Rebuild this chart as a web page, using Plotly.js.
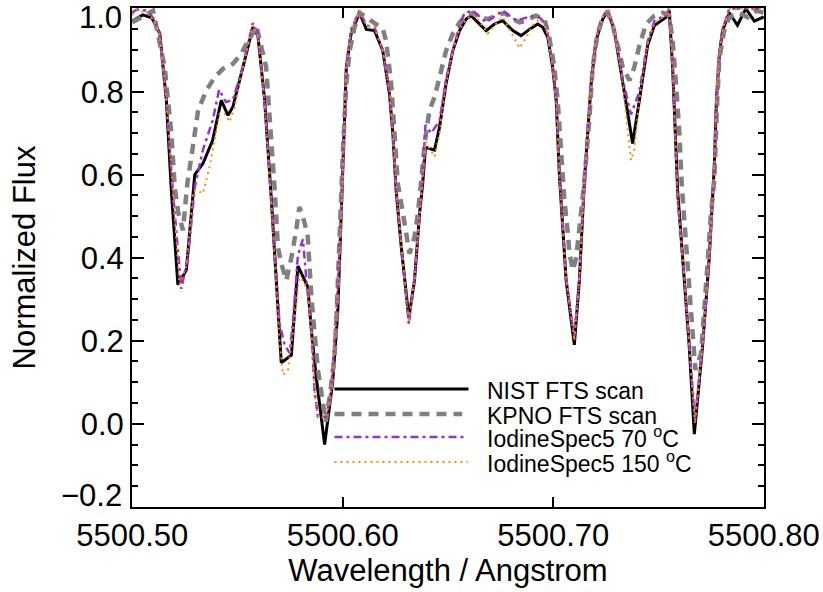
<!DOCTYPE html>
<html>
<head>
<meta charset="utf-8">
<script src="https://cdn.plot.ly/plotly-3.0.1.min.js"></script>
<style>html,body{margin:0;padding:0;background:#fff;}#chart{width:823px;height:592px;}</style>
</head>
<body>
<div id="chart"></div>
<script>
// ---- Data ----
const nistWave = [5500.5000,5500.5050,5500.5093,5500.5131,5500.5162,5500.5186,5500.5217,5500.5257,5500.5297,5500.5336,5500.5382,5500.5423,5500.5455,5500.5478,5500.5526,5500.5573,5500.5597,5500.5629,5500.5661,5500.5684,5500.5700,5500.5708,5500.5756,5500.5787,5500.5834,5500.5851,5500.5874,5500.5890,5500.5914,5500.5952,5500.5976,5500.5993,5500.6017,5500.6040,5500.6080,5500.6112,5500.6151,5500.6190,5500.6222,5500.6238,5500.6254,5500.6278,5500.6294,5500.6314,5500.6341,5500.6365,5500.6380,5500.6393,5500.6436,5500.6460,5500.6491,5500.6523,5500.6555,5500.6586,5500.6610,5500.6634,5500.6681,5500.6721,5500.6760,5500.6808,5500.6847,5500.6887,5500.6926,5500.6950,5500.6974,5500.6997,5500.7014,5500.7029,5500.7061,5500.7085,5500.7100,5500.7124,5500.7148,5500.7180,5500.7203,5500.7235,5500.7259,5500.7290,5500.7330,5500.7362,5500.7377,5500.7409,5500.7448,5500.7480,5500.7536,5500.7551,5500.7567,5500.7591,5500.7623,5500.7646,5500.7670,5500.7709,5500.7741,5500.7765,5500.7775,5500.7789,5500.7804,5500.7836,5500.7875,5500.7915,5500.7955,5500.7994,5500.8000];
const nistFlux = [0.970,0.985,0.978,0.940,0.780,0.560,0.335,0.370,0.600,0.627,0.683,0.779,0.743,0.763,0.859,0.955,0.935,0.780,0.540,0.346,0.226,0.147,0.165,0.380,0.330,0.226,0.113,0.050,-0.050,0.100,0.266,0.507,0.859,0.940,0.990,0.950,0.947,0.899,0.795,0.700,0.560,0.426,0.346,0.255,0.346,0.507,0.580,0.666,0.659,0.715,0.820,0.899,0.947,0.975,0.983,0.971,0.947,0.963,0.971,0.947,0.935,0.950,0.963,0.955,0.931,0.859,0.779,0.600,0.346,0.250,0.190,0.346,0.587,0.820,0.923,0.975,0.995,0.947,0.820,0.723,0.675,0.779,0.911,0.959,0.979,0.995,0.859,0.560,0.346,0.186,-0.025,0.186,0.400,0.620,0.780,0.890,0.947,0.990,0.960,1.000,0.970,0.980,0.980];

const kpnoWave = [5500.5000,5500.5099,5500.5154,5500.5186,5500.5202,5500.5218,5500.5241,5500.5262,5500.5281,5500.5313,5500.5352,5500.5392,5500.5431,5500.5478,5500.5518,5500.5550,5500.5581,5500.5589,5500.5636,5500.5660,5500.5676,5500.5692,5500.5708,5500.5732,5500.5756,5500.5780,5500.5787,5500.5794,5500.5818,5500.5834,5500.5851,5500.5866,5500.5882,5500.5906,5500.5919,5500.5938,5500.5961,5500.5969,5500.5977,5500.5985,5500.6001,5500.6017,5500.6033,5500.6056,5500.6080,5500.6112,5500.6160,5500.6190,5500.6206,5500.6230,5500.6246,5500.6262,5500.6286,5500.6302,5500.6317,5500.6341,5500.6357,5500.6373,5500.6389,5500.6412,5500.6436,5500.6460,5500.6491,5500.6523,5500.6555,5500.6586,5500.6618,5500.6650,5500.6689,5500.6729,5500.6768,5500.6808,5500.6839,5500.6871,5500.6918,5500.6958,5500.6981,5500.7005,5500.7021,5500.7037,5500.7053,5500.7069,5500.7077,5500.7093,5500.7109,5500.7124,5500.7148,5500.7172,5500.7187,5500.7211,5500.7235,5500.7259,5500.7282,5500.7306,5500.7330,5500.7362,5500.7385,5500.7409,5500.7441,5500.7480,5500.7520,5500.7551,5500.7567,5500.7583,5500.7599,5500.7611,5500.7631,5500.7646,5500.7662,5500.7675,5500.7702,5500.7717,5500.7733,5500.7749,5500.7765,5500.7779,5500.7789,5500.7812,5500.7836,5500.7883,5500.7923,5500.7963,5500.7994,5500.8000];
const kpnoFlux = [0.967,0.995,0.860,0.700,0.570,0.510,0.466,0.580,0.643,0.755,0.803,0.835,0.855,0.867,0.891,0.923,0.947,0.960,0.860,0.700,0.570,0.426,0.386,0.346,0.400,0.470,0.490,0.522,0.486,0.450,0.306,0.219,0.130,0.050,0.005,0.065,0.160,0.240,0.353,0.480,0.659,0.820,0.899,0.955,0.990,0.979,0.963,0.951,0.923,0.820,0.700,0.578,0.507,0.450,0.410,0.450,0.507,0.587,0.675,0.755,0.787,0.835,0.899,0.940,0.967,0.983,0.990,0.979,0.975,0.983,0.990,0.975,0.967,0.971,0.983,0.975,0.931,0.860,0.779,0.659,0.538,0.460,0.410,0.370,0.400,0.470,0.587,0.738,0.859,0.940,0.979,0.990,0.960,0.911,0.859,0.827,0.859,0.911,0.963,0.983,0.990,0.983,0.923,0.820,0.700,0.570,0.426,0.306,0.186,0.130,0.170,0.266,0.386,0.506,0.587,0.780,0.880,0.947,0.979,0.990,0.979,0.995,0.990,0.990];

const iodine70Wave = [5500.5000,5500.5021,5500.5072,5500.5104,5500.5131,5500.5162,5500.5193,5500.5233,5500.5265,5500.5297,5500.5336,5500.5382,5500.5413,5500.5445,5500.5478,5500.5526,5500.5573,5500.5597,5500.5629,5500.5661,5500.5684,5500.5700,5500.5724,5500.5748,5500.5764,5500.5787,5500.5811,5500.5826,5500.5850,5500.5866,5500.5882,5500.5921,5500.5945,5500.5969,5500.5993,5500.6017,5500.6040,5500.6080,5500.6112,5500.6151,5500.6190,5500.6222,5500.6238,5500.6254,5500.6278,5500.6294,5500.6314,5500.6341,5500.6365,5500.6380,5500.6393,5500.6420,5500.6460,5500.6491,5500.6523,5500.6555,5500.6579,5500.6618,5500.6681,5500.6760,5500.6824,5500.6903,5500.6934,5500.6966,5500.6997,5500.7014,5500.7029,5500.7061,5500.7085,5500.7100,5500.7124,5500.7148,5500.7180,5500.7203,5500.7235,5500.7259,5500.7290,5500.7330,5500.7362,5500.7369,5500.7409,5500.7448,5500.7480,5500.7536,5500.7551,5500.7567,5500.7591,5500.7623,5500.7646,5500.7673,5500.7709,5500.7741,5500.7765,5500.7775,5500.7789,5500.7804,5500.7836,5500.7875,5500.7915,5500.7955,5500.8000];
const iodine70Flux = [0.990,0.998,0.995,0.975,0.940,0.780,0.560,0.325,0.400,0.570,0.660,0.730,0.805,0.775,0.780,0.860,0.965,0.940,0.780,0.540,0.350,0.240,0.190,0.170,0.250,0.406,0.445,0.353,0.240,0.080,0.017,0.017,0.080,0.266,0.507,0.860,0.950,0.995,0.960,0.955,0.900,0.800,0.700,0.560,0.430,0.350,0.240,0.350,0.510,0.600,0.720,0.700,0.730,0.830,0.900,0.960,0.990,0.995,0.967,0.995,0.971,0.983,0.979,0.963,0.860,0.780,0.600,0.350,0.260,0.210,0.350,0.590,0.820,0.930,0.980,1.000,0.950,0.830,0.760,0.745,0.800,0.920,0.970,0.985,1.000,0.860,0.540,0.350,0.190,0.010,0.190,0.400,0.620,0.780,0.890,0.950,1.000,1.000,1.000,1.000,1.000];

const iodine150Wave = [5500.5000,5500.5021,5500.5072,5500.5104,5500.5131,5500.5162,5500.5193,5500.5225,5500.5257,5500.5290,5500.5305,5500.5336,5500.5368,5500.5392,5500.5415,5500.5439,5500.5463,5500.5486,5500.5526,5500.5573,5500.5597,5500.5629,5500.5661,5500.5684,5500.5700,5500.5716,5500.5740,5500.5764,5500.5795,5500.5834,5500.5851,5500.5866,5500.5882,5500.5921,5500.5945,5500.5969,5500.5993,5500.6017,5500.6040,5500.6080,5500.6112,5500.6151,5500.6190,5500.6222,5500.6238,5500.6254,5500.6278,5500.6294,5500.6314,5500.6341,5500.6365,5500.6380,5500.6393,5500.6436,5500.6460,5500.6491,5500.6523,5500.6555,5500.6586,5500.6618,5500.6650,5500.6689,5500.6721,5500.6760,5500.6808,5500.6839,5500.6871,5500.6903,5500.6934,5500.6966,5500.6997,5500.7014,5500.7029,5500.7061,5500.7085,5500.7100,5500.7124,5500.7148,5500.7180,5500.7203,5500.7235,5500.7259,5500.7290,5500.7330,5500.7355,5500.7369,5500.7385,5500.7409,5500.7448,5500.7480,5500.7536,5500.7551,5500.7567,5500.7591,5500.7623,5500.7646,5500.7673,5500.7709,5500.7741,5500.7765,5500.7775,5500.7789,5500.7804,5500.7836,5500.7875,5500.7915,5500.7955,5500.8000];
const iodine150Flux = [0.985,0.998,0.990,0.970,0.935,0.780,0.560,0.335,0.380,0.560,0.563,0.555,0.620,0.683,0.747,0.747,0.727,0.763,0.860,0.960,0.935,0.770,0.530,0.330,0.200,0.118,0.130,0.220,0.360,0.320,0.220,0.080,0.015,0.015,0.080,0.266,0.507,0.860,0.950,0.995,0.960,0.955,0.900,0.800,0.700,0.560,0.430,0.350,0.245,0.350,0.510,0.600,0.680,0.643,0.700,0.820,0.900,0.950,0.975,0.985,0.970,0.940,0.960,0.980,0.935,0.905,0.930,0.960,0.975,0.955,0.860,0.780,0.600,0.350,0.260,0.200,0.350,0.590,0.820,0.930,0.980,1.000,0.950,0.820,0.700,0.635,0.660,0.780,0.915,0.965,0.985,1.000,0.860,0.540,0.350,0.190,0.000,0.190,0.400,0.620,0.780,0.890,0.950,1.000,1.000,1.000,1.000,1.000];

const seriesNames = ["NIST FTS scan", "KPNO FTS scan", "IodineSpec5 70 <sup>o</sup>C", "IodineSpec5 150 <sup>o</sup>C"];
const xTickVals = [5500.50, 5500.60, 5500.70, 5500.80];
const yTickVals = [-0.2, 0.0, 0.2, 0.4, 0.6, 0.8, 1.0];
const yTickText = ["", "0.0", "0.2", "0.4", "0.6", "0.8", ""];   // end labels drawn inside the box, as in the reference
const yEndLabels = ["1.0", "\u22120.2"];
const xTitle = "Wavelength / Angstrom";
const yTitle = "Normalized Flux";

// ---- Styles ----
const FONT = "Liberation Sans, Arial, Helvetica, sans-serif";
const styles = [
  {color: "#000000", width: 3, dash: "solid"},
  {color: "#808080", width: 4.5, dash: "10px,7px"},
  {color: "#9932CC", width: 2.5, dash: "8px,4px,3px,4px"},
  {color: "#FF8C00", width: 2, dash: "2px,4px"}
];
const waves = [nistWave, kpnoWave, iodine70Wave, iodine150Wave];
const fluxes = [nistFlux, kpnoFlux, iodine70Flux, iodine150Flux];

const traces = waves.map((w, i) => ({
  type: "scatter", mode: "lines", x: w, y: fluxes[i], name: seriesNames[i],
  line: {color: styles[i].color, width: styles[i].width, dash: styles[i].dash},
  showlegend: false, hoverinfo: "skip", cliponaxis: true
}));

// manual legend (long line samples, as in the reference)
const legX0 = 0.3204, legX1 = [0.5324, 0.5224, 0.5290, 0.5310], legTextX = 0.5593;
const legY = [0.2365, 0.1864, 0.1403, 0.0902];
const shapes = legY.map((y, i) => ({
  type: "line", xref: "paper", yref: "paper", x0: legX0, x1: legX1[i], y0: y, y1: y,
  line: {color: styles[i].color, width: styles[i].width, dash: styles[i].dash}, layer: "above"
}));
const annotations = legY.map((y, i) => ({
  xref: "paper", yref: "paper", x: legTextX, y: (i < 2 ? y - 0.005 : y), xanchor: "left", yanchor: "middle",
  text: seriesNames[i], showarrow: false, font: {family: FONT, size: 23, color: "#000"}
}));
// end tick labels of the y axis, kept inside the frame height like the reference
[[0.980, yEndLabels[0]], [0.024, yEndLabels[1]]].forEach(([py, t]) => annotations.push({
  xref: "paper", yref: "paper", x: 0, y: py, xanchor: "right", yanchor: "middle", xshift: -8,
  text: t, showarrow: false, font: {family: FONT, size: 31, color: "#000"}
}));

const layout = {
  width: 823, height: 592,
  margin: {l: 132, r: 59, t: 8, b: 85},
  paper_bgcolor: "#fff", plot_bgcolor: "#fff",
  font: {family: FONT, size: 31, color: "#000"},
  xaxis: {
    range: [5500.4999, 5500.8001], tickvals: xTickVals, tickformat: ".2f",
    ticks: "inside", ticklen: 10, tickwidth: 2, tickcolor: "#000",
    showline: true, linewidth: 2, linecolor: "#000", mirror: "ticks",
    showgrid: false, zeroline: false,
    tickfont: {family: FONT, size: 31},
    title: {text: xTitle, font: {family: FONT, size: 31}, standoff: 6}
  },
  yaxis: {
    range: [-0.2005, 1.0015], tickvals: yTickVals, ticktext: yTickText,
    ticks: "inside", ticklen: 12, tickwidth: 2, tickcolor: "#000",
    minor: {dtick: 0.05, tick0: 0, ticks: "inside", ticklen: 6, tickwidth: 2, tickcolor: "#000", showgrid: false},
    showline: true, linewidth: 2, linecolor: "#000", mirror: "ticks",
    showgrid: false, zeroline: false,
    tickfont: {family: FONT, size: 31},
    title: {text: yTitle, font: {family: FONT, size: 31}, standoff: 36}
  },
  shapes: shapes,
  annotations: annotations,
  showlegend: false
};

Plotly.newPlot("chart", traces, layout, {staticPlot: true, displayModeBar: false});
</script>
</body>
</html>
